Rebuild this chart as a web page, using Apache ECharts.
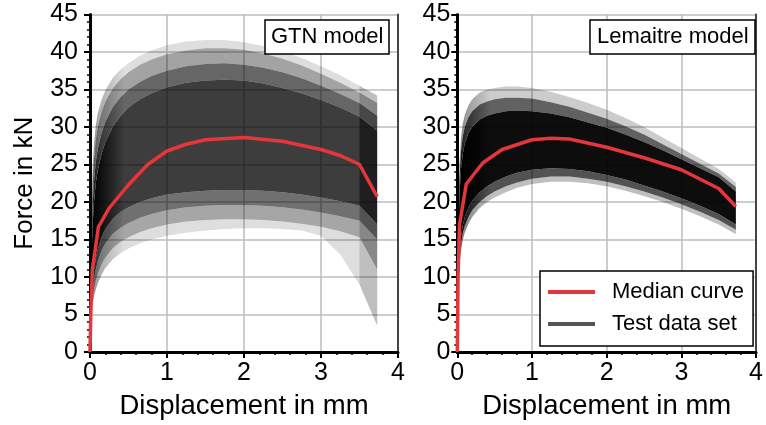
<!DOCTYPE html>
<html>
<head>
<meta charset="utf-8">
<script src="https://cdn.jsdelivr.net/npm/echarts@6/dist/echarts.min.js"></script>
<style>
  html, body { margin: 0; padding: 0; background: #fff; }
  #chart { width: 766px; height: 425px; }
</style>
</head>
<body>
<div id="chart"></div>
<script>
// ---- Force–displacement data (displacement in mm, force in kN) ----

// GTN model: spread of the test data set as envelope / percentile curves
const gtnX   = [0, 0.01, 0.02, 0.035, 0.05, 0.075, 0.1, 0.15, 0.2, 0.3, 0.4, 0.5, 0.65, 0.8, 1.0, 1.25, 1.5, 1.75, 2.0, 2.25, 2.5, 2.75, 3.0, 3.25, 3.5, 3.73];
const gtnMax = [0, 12.0, 19.0, 24.5, 27.5, 30.2, 31.8, 33.6, 34.9, 36.6, 37.7, 38.5, 39.5, 40.2, 40.9, 41.4, 41.6, 41.6, 41.3, 40.8, 40.1, 39.2, 38.1, 36.9, 35.5, 34.2];
const gtnP97 = [0, 10.5, 17.0, 22.5, 25.5, 28.3, 30.0, 32.0, 33.4, 35.2, 36.4, 37.3, 38.3, 39.0, 39.7, 40.2, 40.5, 40.5, 40.3, 39.8, 39.1, 38.2, 37.1, 35.9, 34.6, 33.2];
const gtnP90 = [0, 9.0, 14.5, 19.5, 22.5, 25.3, 27.0, 29.2, 30.7, 32.7, 34.0, 35.0, 36.0, 36.8, 37.5, 38.1, 38.4, 38.5, 38.3, 37.9, 37.3, 36.5, 35.5, 34.4, 33.2, 31.5];
const gtnP80 = [0, 8.0, 12.5, 17.0, 19.8, 22.5, 24.2, 26.4, 28.0, 30.1, 31.5, 32.6, 33.7, 34.5, 35.3, 35.9, 36.2, 36.3, 36.2, 35.8, 35.2, 34.5, 33.6, 32.6, 31.4, 29.5];
const gtnP20 = [0, 5.0, 7.3, 9.4, 10.8, 12.5, 13.7, 15.3, 16.4, 17.8, 18.7, 19.3, 20.0, 20.5, 21.0, 21.3, 21.5, 21.6, 21.6, 21.5, 21.3, 21.0, 20.6, 20.1, 19.5, 17.0];
const gtnP10 = [0, 4.5, 6.5, 8.3, 9.5, 11.0, 12.0, 13.5, 14.5, 15.8, 16.6, 17.2, 17.9, 18.4, 18.9, 19.3, 19.5, 19.6, 19.6, 19.5, 19.3, 19.0, 18.6, 18.1, 17.5, 15.0];
const gtnP3  = [0, 4.0, 5.8, 7.3, 8.3, 9.5, 10.4, 11.7, 12.6, 13.9, 14.7, 15.3, 16.0, 16.5, 17.0, 17.4, 17.6, 17.7, 17.7, 17.6, 17.4, 17.1, 16.7, 16.1, 15.3, 11.0];
const gtnMin = [0, 3.5, 5.2, 6.5, 7.3, 8.3, 9.1, 10.3, 11.2, 12.4, 13.2, 13.8, 14.5, 15.0, 15.5, 15.9, 16.2, 16.4, 16.5, 16.5, 16.4, 16.2, 15.5, 13.0, 9.0, 3.5];
// GTN model: median curve
const gtnMedX = [0, 0.01, 0.03, 0.11, 0.25, 0.5, 0.75, 1.0, 1.25, 1.5, 2.0, 2.5, 3.0, 3.25, 3.5, 3.73];
const gtnMedY = [0, 5.0, 11.0, 16.7, 19.2, 22.3, 25.0, 26.8, 27.7, 28.3, 28.6, 28.1, 27.0, 26.2, 25.0, 20.7];

// Lemaitre model: spread of the test data set
const lemX   = [0, 0.005, 0.01, 0.02, 0.03, 0.05, 0.075, 0.1, 0.15, 0.2, 0.3, 0.4, 0.5, 0.65, 0.8, 1.0, 1.25, 1.5, 1.75, 2.0, 2.25, 2.5, 2.75, 3.0, 3.25, 3.5, 3.73];
const lemMax = [0, 8.0, 14.0, 21.0, 25.0, 28.5, 30.5, 31.6, 32.9, 33.7, 34.6, 35.0, 35.2, 35.4, 35.4, 35.2, 34.7, 34.0, 33.2, 32.3, 31.2, 30.0, 28.6, 27.2, 25.8, 24.4, 22.6];
const lemP95 = [0, 7.0, 12.5, 19.5, 23.3, 26.8, 28.8, 30.0, 31.3, 32.1, 33.0, 33.4, 33.7, 33.9, 33.9, 33.8, 33.3, 32.7, 31.9, 31.1, 30.1, 29.0, 27.7, 26.4, 25.1, 23.8, 22.0];
const lemP85 = [0, 6.0, 11.0, 17.5, 21.0, 24.5, 26.5, 27.8, 29.2, 30.0, 31.0, 31.5, 31.8, 32.1, 32.2, 32.1, 31.8, 31.3, 30.6, 29.9, 29.0, 28.0, 26.9, 25.7, 24.5, 23.3, 21.4];
const lemP15 = [0, 4.0, 8.0, 11.5, 13.5, 15.5, 17.0, 18.0, 19.3, 20.2, 21.3, 22.1, 22.7, 23.4, 23.9, 24.3, 24.5, 24.4, 24.1, 23.6, 23.0, 22.2, 21.4, 20.5, 19.5, 18.4, 17.0];
const lemP5  = [0, 3.7, 7.5, 10.7, 12.6, 14.5, 15.9, 16.8, 18.0, 18.9, 20.0, 20.8, 21.4, 22.1, 22.6, 23.1, 23.4, 23.4, 23.1, 22.7, 22.1, 21.4, 20.6, 19.7, 18.7, 17.6, 16.3];
const lemMin = [0, 3.4, 7.0, 10.0, 11.8, 13.6, 15.0, 15.9, 17.1, 18.0, 19.2, 20.0, 20.6, 21.3, 21.9, 22.4, 22.7, 22.7, 22.5, 22.1, 21.5, 20.8, 20.0, 19.1, 18.1, 17.0, 15.7];
// Lemaitre model: median curve
const lemMedX = [0, 0.01, 0.03, 0.12, 0.34, 0.6, 1.0, 1.25, 1.5, 2.0, 2.5, 3.0, 3.5, 3.73];
const lemMedY = [0, 10.0, 17.0, 22.4, 25.2, 27.0, 28.3, 28.5, 28.4, 27.3, 25.9, 24.3, 21.8, 19.4];

// ---- Texts ----
const panelTitles = ['GTN model', 'Lemaitre model'];
const legendNames = ['Median curve', 'Test data set'];
const xTitle = 'Displacement in mm';
const yTitle = 'Force in kN';

const FONT = 'Liberation Sans, Arial, sans-serif';
const RED = '#e4363b';

// horizontal alpha ramp: darker where the curves bunch up near the origin
// (and, for the GTN set, past the 3.5 mm kink), base alpha elsewhere
function bandFill(alpha, kinkAt) {
  const a = v => 'rgba(0,0,0,' + Math.min(1, v).toFixed(3) + ')';
  const stops = [
    { offset: 0, color: a(alpha + 0.35) },
    { offset: 0.03, color: a(alpha + 0.2) },
    { offset: 0.12, color: a(alpha) }
  ];
  if (kinkAt) {
    stops.push({ offset: kinkAt - 0.003, color: a(alpha) });
    stops.push({ offset: kinkAt + 0.003, color: a(alpha + 0.12) });
    stops.push({ offset: 1, color: a(alpha + 0.12) });
  } else {
    stops.push({ offset: 1, color: a(alpha) });
  }
  return new echarts.graphic.LinearGradient(0, 0, 1, 0, stops);
}

// a filled band between two curves that share one displacement grid
function band(gridIdx, xs, lo, hi, fill) {
  return {
    type: 'custom',
    name: 'Test data set',
    xAxisIndex: gridIdx,
    yAxisIndex: gridIdx * 2,
    clip: true,
    silent: true,
    z: 1,
    data: [[xs[0], lo[0]]],
    renderItem: function (params, api) {
      const pts = [];
      for (let i = 0; i < xs.length; i++) pts.push(api.coord([xs[i], hi[i]]));
      for (let i = xs.length - 1; i >= 0; i--) pts.push(api.coord([xs[i], lo[i]]));
      return { type: 'polygon', shape: { points: pts }, style: { fill: fill, stroke: null } };
    }
  };
}

function median(gridIdx, xs, ys) {
  return {
    type: 'line',
    name: 'Median curve',
    xAxisIndex: gridIdx,
    yAxisIndex: gridIdx * 2,
    data: xs.map((x, i) => [x, ys[i]]),
    showSymbol: false,
    symbol: 'none',
    lineStyle: { color: RED, width: 3.5, join: 'round' },
    itemStyle: { color: RED },
    z: 5,
    silent: true
  };
}

function xAxisFor(gridIdx) {
  return {
    type: 'value', gridIndex: gridIdx, min: 0, max: 4, interval: 1,
    axisLine: { show: true, onZero: false, lineStyle: { color: '#000', width: 3 } },
    axisTick: { show: true, inside: false, length: 6, lineStyle: { color: '#000', width: 2 } },
    minorTick: { show: true, splitNumber: 5, length: 3, lineStyle: { color: '#000', width: 1.5 } },
    axisLabel: {
      color: '#000', fontSize: 25, fontFamily: FONT, margin: 9,
      showMinLabel: true, showMaxLabel: true, hideOverlap: false, alignMaxLabel: 'center'
    },
    splitLine: { show: true, lineStyle: { color: '#bdbdbd', width: 1.5 } },
    minorSplitLine: { show: false },
    name: xTitle, nameLocation: 'middle', nameGap: 40,
    nameTextStyle: { color: '#000', fontSize: 27.5, fontFamily: FONT }
  };
}

function yAxesFor(gridIdx, labelMargin, withName) {
  return [{
    type: 'value', gridIndex: gridIdx, min: 0, max: 45, interval: 5,
    axisLine: { show: true, onZero: false, lineStyle: { color: '#000', width: 3 } },
    axisTick: { show: true, inside: false, length: 6, lineStyle: { color: '#000', width: 2 } },
    minorTick: { show: true, splitNumber: 5, length: 3, lineStyle: { color: '#000', width: 1.5 } },
    axisLabel: { color: '#000', fontSize: 25, fontFamily: FONT, margin: labelMargin },
    splitLine: { show: true, lineStyle: { color: '#bdbdbd', width: 1.5 } },
    name: withName ? yTitle : '', nameLocation: 'middle', nameGap: 52,
    nameTextStyle: { color: '#000', fontSize: 26, fontFamily: FONT }
  }, {
    // right-hand frame line of the panel
    type: 'value', gridIndex: gridIdx, min: 0, max: 45, position: 'right',
    axisLine: { show: true, onZero: false, lineStyle: { color: '#444', width: 2 } },
    axisTick: { show: false }, axisLabel: { show: false }, splitLine: { show: false }
  }];
}

const gtnKink = 3.5 / 3.73;
const series = [
  band(0, gtnX, gtnMin, gtnP3, bandFill(0.13, gtnKink)),
  band(0, gtnX, gtnP3, gtnP10, bandFill(0.35, gtnKink)),
  band(0, gtnX, gtnP10, gtnP20, bandFill(0.56, gtnKink)),
  band(0, gtnX, gtnP20, gtnP80, bandFill(0.76, gtnKink)),
  band(0, gtnX, gtnP80, gtnP90, bandFill(0.6, gtnKink)),
  band(0, gtnX, gtnP90, gtnP97, bandFill(0.36, gtnKink)),
  band(0, gtnX, gtnP97, gtnMax, bandFill(0.13, gtnKink)),
  median(0, gtnMedX, gtnMedY),
  band(1, lemX, lemMin, lemP5, bandFill(0.25)),
  band(1, lemX, lemP5, lemP15, bandFill(0.68)),
  band(1, lemX, lemP15, lemP85, bandFill(0.95)),
  band(1, lemX, lemP85, lemP95, bandFill(0.62)),
  band(1, lemX, lemP95, lemMax, bandFill(0.2)),
  median(1, lemMedX, lemMedY)
];

const chart = echarts.init(document.getElementById('chart'), null, { renderer: 'canvas' });
chart.setOption({
  animation: false,
  backgroundColor: '#fff',
  textStyle: { fontFamily: FONT },
  grid: [
    { left: 90, top: 14.5, width: 308, height: 338.2, containLabel: false },
    { left: 457.3, top: 14.5, width: 308, height: 338.2, containLabel: false }
  ],
  title: [
    {
      text: panelTitles[0], left: 265, top: 20,
      padding: [6, 6, 6, 6], borderColor: '#000', borderWidth: 1.5, backgroundColor: '#fff',
      textStyle: { fontSize: 22, fontWeight: 'normal', color: '#000', fontFamily: FONT, lineHeight: 22 }
    },
    {
      text: panelTitles[1], left: 590, top: 20,
      padding: [6, 7, 6, 7], borderColor: '#000', borderWidth: 1.5, backgroundColor: '#fff',
      textStyle: { fontSize: 22, fontWeight: 'normal', color: '#000', fontFamily: FONT, lineHeight: 22 }
    }
  ],
  legend: {
    show: true, orient: 'vertical', left: 540, top: 271,
    padding: [10, 9, 11, 8], itemGap: 10, itemWidth: 47, itemHeight: 4,
    borderColor: '#000', borderWidth: 1.5, borderRadius: 0, backgroundColor: '#fff',
    selectedMode: false,
    textStyle: { fontSize: 22, color: '#000', fontFamily: FONT, padding: [0, 0, 0, 12], lineHeight: 22 },
    data: [
      { name: legendNames[0], icon: 'rect', itemStyle: { color: RED } },
      { name: legendNames[1], icon: 'rect', itemStyle: { color: '#555' } }
    ]
  },
  xAxis: [xAxisFor(0), xAxisFor(1)],
  yAxis: yAxesFor(0, 12, true).concat(yAxesFor(1, 7, false)),
  series: series
});
</script>
</body>
</html>
